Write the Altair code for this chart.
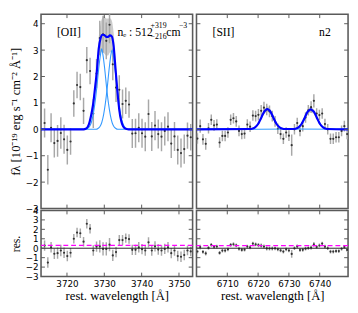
import altair as alt
import pandas as pd

# ---------------- [OII] panel data ----------------
oii_wl = [3714.0, 3714.87, 3715.74, 3716.61, 3717.48, 3718.35, 3719.22, 3720.09, 3720.96, 3721.83,
          3722.7, 3723.57, 3724.44, 3725.31, 3726.18, 3727.05, 3727.92, 3728.79, 3729.66, 3730.53,
          3731.4, 3732.27, 3733.14, 3734.01, 3734.88, 3735.75, 3736.62, 3737.49, 3738.36, 3739.23,
          3740.1, 3740.97, 3741.84, 3742.71, 3743.58, 3744.45, 3745.32, 3746.19, 3747.06, 3747.93,
          3748.8, 3749.67, 3750.54, 3751.41, 3752.28, 3753.15]
oii_flux = [0.24, -1.53, 0.06, -0.52, -0.44, -0.14, -0.38, -0.78, -0.46, 0.98,
            1.68, 1.60, 0.70, 2.62, 2.21, 0.60, 2.11, 3.46, 3.60, 3.35,
            3.96, 2.46, 1.58, 1.50, 0.96, 1.08, 0.94, -0.16, -0.15, 0.06,
            -0.15, -0.28, 0.58, -0.27, 0.14, -0.18, -0.28, -0.06, 0.10, -0.54,
            -0.27, -0.78, -0.90, -0.75, -0.24, -0.30]
oii_err = [0.55, 0.56, 0.55, 0.55, 0.60, 0.60, 0.55, 0.55, 0.50, 0.50,
           0.50, 0.50, 0.50, 0.50, 0.50, 0.55, 0.55, 0.65, 0.70, 0.70,
           0.70, 0.60, 0.55, 0.55, 0.55, 0.50, 0.50, 0.55, 0.55, 0.55,
           0.55, 0.55, 0.55, 0.55, 0.55, 0.55, 0.55, 0.55, 0.55, 0.55,
           0.55, 0.55, 0.55, 0.55, 0.50, 0.50]
oii_res = [0.28, -1.52, 0.10, -0.59, -0.52, -0.24, -0.48, -0.83, -0.48, 1.00,
           1.66, 1.59, 0.69, 2.59, 2.07, -0.24, 0.17, 0.20, -0.07, -0.07,
           0.38, -0.76, -0.41, 0.86, 0.86, 1.07, 0.97, -0.17, -0.17, 0.10,
           -0.10, -0.24, 0.62, -0.24, 0.20, -0.14, -0.24, -0.07, 0.10, -0.52,
           -0.24, -0.83, -0.90, -0.72, -0.24, -0.34]

oii_model_wl = [3713.05, 3724.0, 3724.5, 3725.0, 3725.5, 3726.0, 3726.5, 3727.0, 3727.5, 3728.0,
                3728.5, 3729.0, 3729.5, 3730.0, 3730.5, 3731.0, 3731.5, 3732.0, 3732.5, 3733.0,
                3733.5, 3734.0, 3734.5, 3735.0, 3735.5, 3736.0, 3736.5, 3753.65]
oii_model = [0, 0, 0, 0.02, 0.08, 0.25, 0.55, 0.95, 1.55, 2.2,
             3.05, 3.45, 3.58, 3.57, 3.5, 3.5, 3.56, 3.52, 3.15, 2.3,
             1.45, 0.75, 0.33, 0.12, 0.04, 0.01, 0, 0]
oii_band = [0, 0, 0.01, 0.03, 0.06, 0.1, 0.15, 0.2, 0.25, 0.32,
            0.42, 0.55, 0.65, 0.7, 0.7, 0.7, 0.65, 0.6, 0.5, 0.38,
            0.27, 0.18, 0.1, 0.05, 0.02, 0.01, 0, 0]
oii_c1_wl = [3713.05, 3725.0, 3725.5, 3726.0, 3726.5, 3727.0, 3727.5, 3728.0, 3728.5, 3729.0,
             3729.3, 3729.6, 3730.1, 3730.6, 3731.1, 3731.6, 3732.1, 3732.6, 3733.1, 3733.6, 3753.65]
oii_c1 = [0, 0, 0.03, 0.1, 0.25, 0.55, 1.0, 1.6, 2.3, 2.85,
          3.05, 2.85, 2.3, 1.6, 1.0, 0.55, 0.25, 0.1, 0.03, 0, 0]
oii_c2_wl = [3713.05, 3727.8, 3728.3, 3728.8, 3729.3, 3729.8, 3730.3, 3730.8, 3731.3, 3731.8,
             3732.1, 3732.4, 3732.9, 3733.4, 3733.9, 3734.4, 3734.9, 3735.4, 3735.9, 3736.4, 3753.65]
oii_c2 = [0, 0, 0.03, 0.1, 0.25, 0.55, 1.0, 1.6, 2.3, 2.85,
          3.0, 2.8, 2.25, 1.6, 1.0, 0.55, 0.25, 0.1, 0.03, 0, 0]

# ---------------- [SII] panel data ----------------
sii_wl = [6700.3, 6701.2, 6702.1, 6703.0, 6703.9, 6704.8, 6705.7, 6706.6, 6707.5, 6708.4,
          6709.3, 6710.2, 6711.1, 6712.0, 6712.9, 6713.8, 6714.7, 6715.6, 6716.5, 6717.4,
          6718.3, 6719.2, 6720.1, 6721.0, 6721.9, 6722.8, 6723.7, 6724.6, 6725.5, 6726.4,
          6727.3, 6728.2, 6729.1, 6730.0, 6730.9, 6731.8, 6732.7, 6733.6, 6734.5, 6735.4,
          6736.3, 6737.2, 6738.1, 6739.0, 6739.9, 6740.8, 6741.7, 6742.6, 6743.5, 6744.4,
          6745.3, 6746.2, 6747.1, 6748.0, 6748.9]
sii_flux = [-0.35, 0.12, -0.38, -0.55, 0.04, 0.36, 0.15, 0.18, -0.50, -0.25,
            -0.25, -0.12, 0.36, 0.42, 0.30, -0.06, -0.18, -0.16, 0.18, 0.10,
            0.52, 0.50, 0.55, 0.70, 0.82, 0.75, 0.68, 0.50, 0.30, 0.02,
            -0.18, -0.36, -0.12, -0.24, -0.60, 0.00, 0.24, -0.06, 0.12, 0.45,
            0.72, 0.84, 1.08, 0.60, 0.54, 0.60, 0.20, 0.00, -0.36, -0.36,
            -0.30, -0.30, -0.06, 0.12, -0.18]
sii_err = [0.2, 0.25, 0.2, 0.22, 0.2, 0.2, 0.2, 0.2, 0.2, 0.2,
           0.2, 0.2, 0.2, 0.2, 0.2, 0.2, 0.2, 0.2, 0.2, 0.2,
           0.2, 0.2, 0.22, 0.22, 0.22, 0.22, 0.22, 0.2, 0.2, 0.2,
           0.2, 0.2, 0.2, 0.2, 0.4, 0.2, 0.2, 0.2, 0.2, 0.2,
           0.2, 0.22, 0.25, 0.2, 0.2, 0.2, 0.2, 0.2, 0.2, 0.2,
           0.2, 0.2, 0.2, 0.2, 0.2]
sii_res = [-0.35, 0.12, -0.38, -0.55, 0.04, 0.36, 0.15, 0.18, -0.50, -0.25,
           -0.25, -0.12, 0.36, 0.42, 0.30, -0.06, -0.18, -0.16, 0.18, 0.10,
           0.49, 0.40, 0.32, 0.27, 0.17, -0.02, -0.03, -0.03, -0.01, -0.12,
           -0.23, -0.36, -0.12, -0.24, -0.60, 0.00, 0.19, -0.19, -0.17, -0.05,
           0.02, 0.07, 0.41, 0.14, 0.29, 0.49, 0.16, 0.00, -0.36, -0.36,
           -0.30, -0.30, -0.06, 0.12, -0.18]

sii_p1_wl = [6717.5, 6718.0, 6718.5, 6719.0, 6719.5, 6720.0, 6720.5, 6721.0, 6721.5, 6722.0,
             6722.5, 6723.0, 6723.5, 6724.0, 6724.5, 6725.0, 6725.5, 6726.0, 6726.5, 6727.0,
             6727.5, 6728.0, 6728.5]
sii_p1 = [0.01, 0.02, 0.04, 0.075, 0.13, 0.2, 0.31, 0.43, 0.56, 0.67,
          0.73, 0.77, 0.73, 0.67, 0.56, 0.43, 0.31, 0.2, 0.13, 0.075,
          0.04, 0.02, 0.01]
sii_p2_wl = [6731.6, 6732.1, 6732.6, 6733.1, 6733.6, 6734.1, 6734.6, 6735.1, 6735.6, 6736.1,
             6736.6, 6737.1, 6737.6, 6738.1, 6738.6, 6739.1, 6739.6, 6740.1, 6740.6, 6741.1,
             6741.6, 6742.1, 6742.6]
sii_p2 = [0.01, 0.02, 0.04, 0.075, 0.13, 0.2, 0.31, 0.43, 0.56, 0.67,
          0.72, 0.76, 0.72, 0.67, 0.56, 0.43, 0.31, 0.2, 0.13, 0.075,
          0.04, 0.02, 0.01]
sii_band_p = [0, 0, 0.01, 0.02, 0.03, 0.05, 0.06, 0.07, 0.08, 0.09,
              0.1, 0.1, 0.1, 0.09, 0.08, 0.07, 0.06, 0.05, 0.03, 0.02,
              0.01, 0, 0]

# ---------------- axes / ticks ----------------
oii_xdom = [3713.05, 3753.65]
sii_xdom = [6700.0, 6749.2]
top_ydom = [-3.0, 4.36]
res_ydom = [-3.0, 4.0]
oii_xticks = [3720, 3730, 3740, 3750]
sii_xticks = [6710, 6720, 6730, 6740]
top_yticks = [-3, -2, -1, 0, 1, 2, 3, 4]
res_yticks = [-3, -2, -1, 0, 1, 2, 3, 4]
oii_offset = 0.30
sii_offset = 0.28

W, HT, HB = 156, 200, 68
SERIF = "Liberation Serif"
SANS = "DejaVu Sans"
FRAME = "#5a5a5a"
ERRC = "#a8a8a8"
DARKBLUE = "#0000ff"
LIGHTBLUE = "#3399ff"


def yaxis(title, vals, fs):
    return alt.Axis(title=title, values=vals, format="d", ticks=False, domain=False, grid=False,
                    labelFont=SANS, labelFontSize=9, labelPadding=3, labelColor="black",
                    labelFlush=False, labelOverlap=False,
                    titleFont=SERIF, titleFontSize=fs, titleFontWeight="normal",
                    titlePadding=3, titleColor="black")


def xaxis(vals):
    return alt.Axis(title="rest. wavelength [Å]", values=vals, format="d", ticks=False, domain=False,
                    grid=False, labelFont=SANS, labelFontSize=9, labelPadding=3, labelColor="black",
                    labelFlush=False, titleFont=SERIF, titleFontSize=13, titleFontWeight="normal",
                    titlePadding=2, titleColor="black")


def tick_layers(X, Y, xt, yt, H):
    dx = pd.DataFrame({"x": xt})
    dy = pd.DataFrame({"y": yt})
    st = dict(color=FRAME, strokeWidth=1)
    return [
        alt.Chart(dx).mark_rule(**st).encode(x=X("x"), y=alt.value(0), y2=alt.value(4)),
        alt.Chart(dx).mark_rule(**st).encode(x=X("x"), y=alt.value(H - 4), y2=alt.value(H)),
        alt.Chart(dy).mark_rule(**st).encode(y=Y("y"), x=alt.value(0), x2=alt.value(4)),
        alt.Chart(dy).mark_rule(**st).encode(y=Y("y"), x=alt.value(W - 4), x2=alt.value(W)),
    ]


def top_panel(wl, flux, err, mwl, mval, band, comps, xdom, xt, yax, texts):
    xs = alt.Scale(domain=xdom, nice=False, zero=False)
    ys = alt.Scale(domain=top_ydom, nice=False, zero=False)
    X = lambda f: alt.X(f"{f}:Q", scale=xs, axis=None)
    Y = lambda f: alt.Y(f"{f}:Q", scale=ys, axis=yax)
    pts = pd.DataFrame({"x": wl, "y": flux,
                        "lo": [f - e for f, e in zip(flux, err)],
                        "hi": [f + e for f, e in zip(flux, err)]})
    mdf = pd.DataFrame({"x": mwl, "y": mval,
                        "blo": [v - b for v, b in zip(mval, band)],
                        "bhi": [v + b for v, b in zip(mval, band)]})
    cdf = pd.concat([pd.DataFrame({"x": cw, "y": cv, "c": str(i)}) for i, (cw, cv) in enumerate(comps)])
    layers = [
        alt.Chart(mdf).mark_area(color="#7a7a7a", opacity=0.38, interpolate="monotone", clip=True)
        .encode(x=X("x"), y=Y("blo"), y2="bhi"),
        alt.Chart(pts).mark_rule(color=ERRC, strokeWidth=1.5, clip=True).encode(x=X("x"), y=Y("lo"), y2="hi"),
        alt.Chart(pts).mark_circle(color="#333333", size=5, opacity=1, clip=True).encode(x=X("x"), y=Y("y")),
        alt.Chart(cdf).mark_line(color=LIGHTBLUE, strokeWidth=1.1, interpolate="monotone", clip=True)
        .encode(x=X("x"), y=Y("y"), detail="c:N"),
        alt.Chart(mdf).mark_line(color=DARKBLUE, strokeWidth=2.2, interpolate="monotone", clip=True)
        .encode(x=X("x"), y=Y("y")),
    ]
    for (tx, ty, tt, fs) in texts:
        tdf = pd.DataFrame({"x": [tx], "y": [ty], "t": [tt]})
        layers.append(alt.Chart(tdf).mark_text(align="left", baseline="middle", font=SERIF, fontSize=fs,
                                               color="black")
                      .encode(x=X("x"), y=Y("y"), text="t:N"))
    layers += tick_layers(X, Y, xt, top_yticks, HT)
    return alt.layer(*layers).properties(width=W, height=HT)


def res_panel(wl, res, err, offset, xdom, xt, yax):
    xs = alt.Scale(domain=xdom, nice=False, zero=False)
    ys = alt.Scale(domain=res_ydom, nice=False, zero=False)
    X = lambda f: alt.X(f"{f}:Q", scale=xs, axis=xaxis(xt))
    Y = lambda f: alt.Y(f"{f}:Q", scale=ys, axis=yax)
    pts = pd.DataFrame({"x": wl, "y": res,
                        "lo": [r - e for r, e in zip(res, err)],
                        "hi": [r + e for r, e in zip(res, err)]})
    layers = [
        alt.Chart(pts).mark_rule(color=ERRC, strokeWidth=1.5, clip=True).encode(x=X("x"), y=Y("lo"), y2="hi"),
        alt.Chart(pts).mark_circle(color="#333333", size=5, opacity=1, clip=True).encode(x=X("x"), y=Y("y")),
        alt.Chart(pd.DataFrame({"y": [0.0]})).mark_rule(color="#222222", strokeWidth=1).encode(y=Y("y")),
        alt.Chart(pd.DataFrame({"y": [offset]})).mark_rule(color="#ff00ff", strokeWidth=1.4,
                                                            strokeDash=[5, 3]).encode(y=Y("y")),
    ]
    layers += tick_layers(X, Y, xt, res_yticks, HB)
    return alt.layer(*layers).properties(width=W, height=HB)


tl = top_panel(oii_wl, oii_flux, oii_err, oii_model_wl, oii_model, oii_band,
               [(oii_c1_wl, oii_c1), (oii_c2_wl, oii_c2)], oii_xdom, oii_xticks,
               yaxis("fλ  [10⁻¹⁹ erg s⁻¹ cm⁻² Å⁻¹]", top_yticks, 13),
               [(3717.3, 3.68, "[OII]", 12),
                (3733.5, 3.68, "nₑ : 512", 12),
                (3742.4, 3.92, "+319", 8),
                (3742.4, 3.48, "−216", 8),
                (3746.6, 3.68, "cm", 12),
                (3750.0, 3.9, "−3", 8)])

sii_model_wl = [6700.0] + sii_p1_wl + sii_p2_wl + [6749.2]
sii_model = [0] + sii_p1 + sii_p2 + [0]
sii_band = [0] + sii_band_p + sii_band_p + [0]
tr = top_panel(sii_wl, sii_flux, sii_err, sii_model_wl, sii_model, sii_band,
               [([6700.0] + sii_p1_wl + [6749.2], [0] + sii_p1 + [0]),
                ([6700.0] + sii_p2_wl + [6749.2], [0] + sii_p2 + [0])],
               sii_xdom, sii_xticks, None,
               [(6705.2, 3.68, "[SII]", 12), (6739.8, 3.68, "n2", 12)])

bl = res_panel(oii_wl, oii_res, oii_err, oii_offset, oii_xdom, oii_xticks, yaxis("res.", res_yticks, 12))
br = res_panel(sii_wl, sii_res, sii_err, sii_offset, sii_xdom, sii_xticks, None)

chart = alt.concat(
    tl, tr, bl, br,
    columns=2,
    spacing={"row": 2, "column": 4},
    align="each",
    bounds="flush",
).properties(padding={"left": 0, "top": 0, "right": 0, "bottom": 0}, background="white"
).configure_view(stroke=FRAME, strokeWidth=1.6).configure_axis(grid=False)

chart.save("out.html", embed_options={"renderer": "svg", "actions": False})
